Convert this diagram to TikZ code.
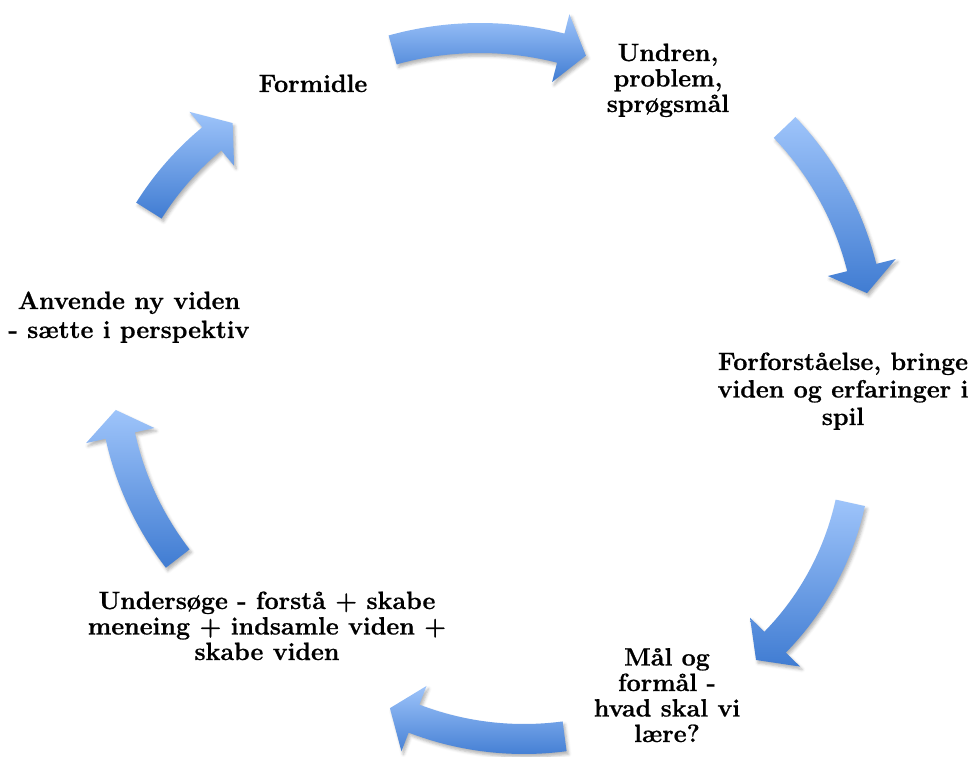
\documentclass[tikz,border=0pt]{standalone}
\usepackage{fontspec}
\setmainfont{Latin Modern Roman}[BoldFeatures={FakeBold=0.8}]
\usepackage{tikz}
\usetikzlibrary{shadows.blur}
\definecolor{arrowtop}{RGB}{158,196,250}
\definecolor{arrowbottom}{RGB}{64,124,210}

\begin{document}
\begin{tikzpicture}[x=1pt, y=1pt,
		cyclearrow/.style={top color=arrowtop, bottom color=arrowbottom, draw=none, blur shadow={shadow xshift=2pt, shadow yshift=-3pt, shadow blur radius=3pt, shadow opacity=30}},
		steplabel/.style={align=center, anchor=base, inner sep=0pt, font=\fontsize{25}{25.5}\selectfont\bfseries}]
			\useasboundingbox (0,0) rectangle (973,756);
			\path[cyclearrow, shift={(480,391)}] (105.5:342pt) arc[start angle=105.5, end angle=75.7, radius=342pt] -- (75.7:362pt) -- (71.1:327pt) -- (75.7:292pt) -- (75.7:312pt) arc[start angle=75.7, end angle=105.5, radius=312pt] -- cycle;
			\path[cyclearrow, shift={(559,413)}] (43.7:327pt) arc[start angle=43.7, end angle=14.0, radius=327pt] -- (14.0:347pt) -- (9.2:312pt) -- (14.0:277pt) -- (14.0:297pt) arc[start angle=14.0, end angle=43.7, radius=297pt] -- cycle;
			\path[cyclearrow, shift={(569,315)}] (-12.4:303pt) arc[start angle=-12.4, end angle=-44.3, radius=303pt] -- (-44.3:323pt) -- (-49.5:288pt) -- (-44.3:253pt) -- (-44.3:273pt) arc[start angle=-44.3, end angle=-12.4, radius=273pt] -- cycle;
			\path[cyclearrow, shift={(524,324)}] (-82.4:322pt) arc[start angle=-82.4, end angle=-111.0, radius=322pt] -- (-111.0:342pt) -- (-115.9:307pt) -- (-111.0:272pt) -- (-111.0:292pt) arc[start angle=-111.0, end angle=-82.4, radius=292pt] -- cycle;
			\path[cyclearrow, shift={(423,387)}] (217.7:325pt) arc[start angle=217.7, end angle=192.4, radius=325pt] -- (192.4:345pt) -- (187.6:310pt) -- (192.4:275pt) -- (192.4:295pt) arc[start angle=192.4, end angle=217.7, radius=295pt] -- cycle;
			\path[cyclearrow, shift={(403,386)}] (147.9:315pt) arc[start angle=147.9, end angle=129.6, radius=315pt] -- (129.6:335pt) -- (124.6:300pt) -- (129.6:265pt) -- (129.6:285pt) arc[start angle=129.6, end angle=147.9, radius=285pt] -- cycle;
			\node[steplabel] (formidle) at (313,664) {Formidle};
			\node[steplabel] (undren) at (668,644) {Undren,\\problem,\\sprøgsmål};
			\node[steplabel, font=\fontsize{25}{27.5}\selectfont\bfseries] (forforstaaelse) at (843,331) {Forforståelse, bringe\\viden og erfaringer i\\spil};
			\node[steplabel] (maal) at (667,14) {Mål og\\formål -\\hvad skal vi\\lære?};
			\node[steplabel] (undersoege) at (267,96) {Undersøge - forstå + skabe\\meneing + indsamle viden +\\skabe viden};
			\node[steplabel] (anvende) at (129,418) {Anvende ny viden\\[3.5pt]- sætte i perspektiv};
		\end{tikzpicture}
\end{document}
